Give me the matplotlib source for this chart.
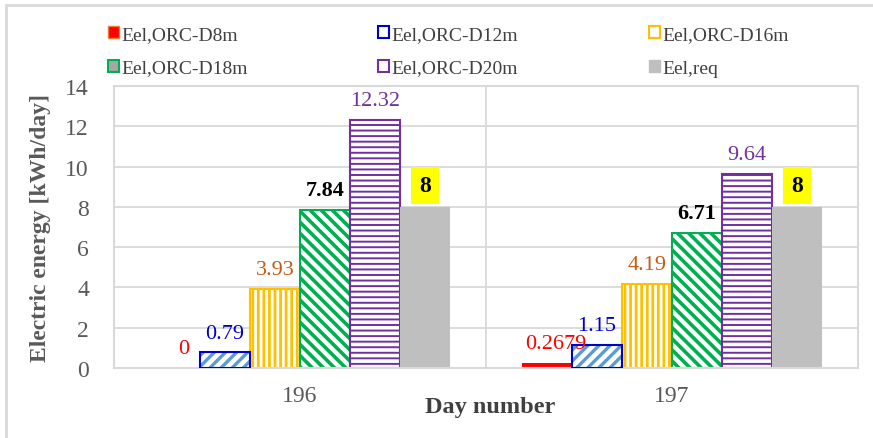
import numpy as np
import matplotlib
matplotlib.use("Agg")
import matplotlib.pyplot as plt
from matplotlib.patches import Patch, Rectangle

# data
days = ["196", "197"]
series = ["Eel,ORC-D8m", "Eel,ORC-D12m", "Eel,ORC-D16m",
          "Eel,ORC-D18m", "Eel,ORC-D20m", "Eel,req"]
d8 = [0, 0.2679]
d12 = [0.79, 1.15]
d16 = [3.93, 4.19]
d18 = [7.84, 6.71]
d20 = [12.32, 9.64]
req = [8, 8]
labels_d8 = ["0", "0.2679"]
yticks = [0, 2, 4, 6, 8, 10, 12, 14]

plt.rcParams['font.family'] = ['Liberation Serif', 'DejaVu Serif']
plt.rcParams['hatch.linewidth'] = 2.0

fig = plt.figure(figsize=(8.73, 4.39), dpi=100)
ax = fig.add_axes([114/873, 70/439, 744/873, 282/439])

# outer frame of the chart area (only left/top visible in reference)
fig.patches.append(Rectangle((6/873, -0.1), 1.2, 1 - 6/439 + 0.1,
                             transform=fig.transFigure, fill=False,
                             edgecolor='#D9D9D9', lw=2, zorder=0))

x = np.arange(len(days))
w = 0.1344
off = [(i - 2.5) * w for i in range(6)]

grid_c = '#D9D9D9'
ax.set_ylim(0, 14)
ax.set_xlim(-0.5, 1.5)
ax.set_yticks(yticks)
for v in yticks[1:-1]:
    ax.axhline(v, color=grid_c, lw=1.3, zorder=0)
ax.axvline(0.5, color=grid_c, lw=1.3, zorder=0)
for s in ax.spines.values():
    s.set_color(grid_c)
    s.set_linewidth(1.5)


def hatch_lw(bars, lw):
    for b in bars:
        if hasattr(b, "set_hatch_linewidth"):
            b.set_hatch_linewidth(lw)


# red solid
ax.bar(x + off[0], d8, w, color='#FF0000', zorder=2)
# blue: light blue diagonal hatch, dark blue outline
b = ax.bar(x + off[1], d12, w, color='white', edgecolor='#5B9BD5', hatch='///', lw=0, zorder=2)
hatch_lw(b, 2.4)
ax.bar(x + off[1], d12, w, fill=False, edgecolor='#0000CC', lw=1.5, zorder=3)
# yellow vertical hatch
b = ax.bar(x + off[2], d16, w, color='white', edgecolor='#FFC000', hatch='|||', lw=1.5, zorder=2)
hatch_lw(b, 2.0)
# green back-diagonal hatch
b = ax.bar(x + off[3], d18, w, color='white', edgecolor='#00B050', hatch='\\\\\\', lw=1.5, zorder=2)
hatch_lw(b, 2.6)
# purple horizontal hatch
b = ax.bar(x + off[4], d20, w, color='white', edgecolor='#7030A0', hatch='---', lw=1.5, zorder=2)
hatch_lw(b, 1.4)
# grey solid
ax.bar(x + off[5], req, w, color='#BFBFBF', zorder=2)

fs = 16
lab_pad = 10.5
for i in range(len(days)):
    ax.annotate(labels_d8[i], (x[i] + off[0], d8[i]), xytext=(6, lab_pad),
                textcoords='offset points', ha='center', va='baseline',
                color='#FF0000', fontsize=fs, zorder=5)
    ax.annotate(f"{d12[i]:.2f}", (x[i] + off[1], d12[i]), xytext=(0, lab_pad),
                textcoords='offset points', ha='center', va='baseline',
                color='#0000CC', fontsize=fs, zorder=5)
    ax.annotate(f"{d16[i]:.2f}", (x[i] + off[2], d16[i]), xytext=(0, lab_pad),
                textcoords='offset points', ha='center', va='baseline',
                color='#C55A11', fontsize=fs, zorder=5)
    ax.annotate(f"{d18[i]:.2f}", (x[i] + off[3], d18[i]), xytext=(0, lab_pad),
                textcoords='offset points', ha='center', va='baseline',
                color='black', fontsize=fs, fontweight='bold', zorder=5)
    ax.annotate(f"{d20[i]:.2f}", (x[i] + off[4], d20[i]), xytext=(0, lab_pad),
                textcoords='offset points', ha='center', va='baseline',
                color='#7030A0', fontsize=fs, zorder=5)
    ax.annotate(f"{req[i]:g}", (x[i] + off[5], req[i]), xytext=(0, lab_pad + 1),
                textcoords='offset points', ha='center', va='baseline',
                color='black', fontsize=fs + 1, fontweight='bold', zorder=5,
                bbox=dict(boxstyle='square,pad=0.35', fc='#FFFF00', ec='none'))

ax.set_xticks(x)
ax.set_xticklabels(days)
ax.tick_params(axis='both', length=0, labelsize=17, labelcolor='#595959')
ax.tick_params(axis='y', pad=18)
ax.tick_params(axis='x', pad=12)

fig.text(41/873, 1 - 228/439, "Electric energy [kWh/day]", rotation=90,
         ha='center', va='center', fontsize=17, fontweight='bold', color='#595959')
fig.text(490/873, 1 - 413/439, "Day number", ha='center', va='baseline',
         fontsize=17.5, fontweight='bold', color='#404040')

# legend, Excel style: three columns of two entries
handles = [
    Patch(facecolor='#FF0000', edgecolor='#ED7D31', lw=1),
    Patch(facecolor='white', edgecolor='#0000CC', lw=1.5),
    Patch(facecolor='white', edgecolor='#FFC000', lw=1.5),
    Patch(facecolor='#A6A6A6', edgecolor='#00B050', lw=1.5),
    Patch(facecolor='white', edgecolor='#7030A0', lw=1.5),
    Patch(facecolor='#BFBFBF', edgecolor='#BFBFBF', lw=1),
]
col_x = [108/873, 378/873, 649/873]
for c in range(3):
    hs = [handles[c], handles[c + 3]]
    ls = [series[c], series[c + 3]]
    lg = fig.legend(hs, ls, loc='upper left', bbox_to_anchor=(col_x[c], 1 - 27/439),
                    frameon=False, fontsize=14, handlelength=0.55, handleheight=0.55,
                    handletextpad=0.15, labelspacing=0.85, borderpad=0, borderaxespad=0)
    for t in lg.get_texts():
        t.set_color('#404040')

fig.savefig("out.png", dpi=100)
